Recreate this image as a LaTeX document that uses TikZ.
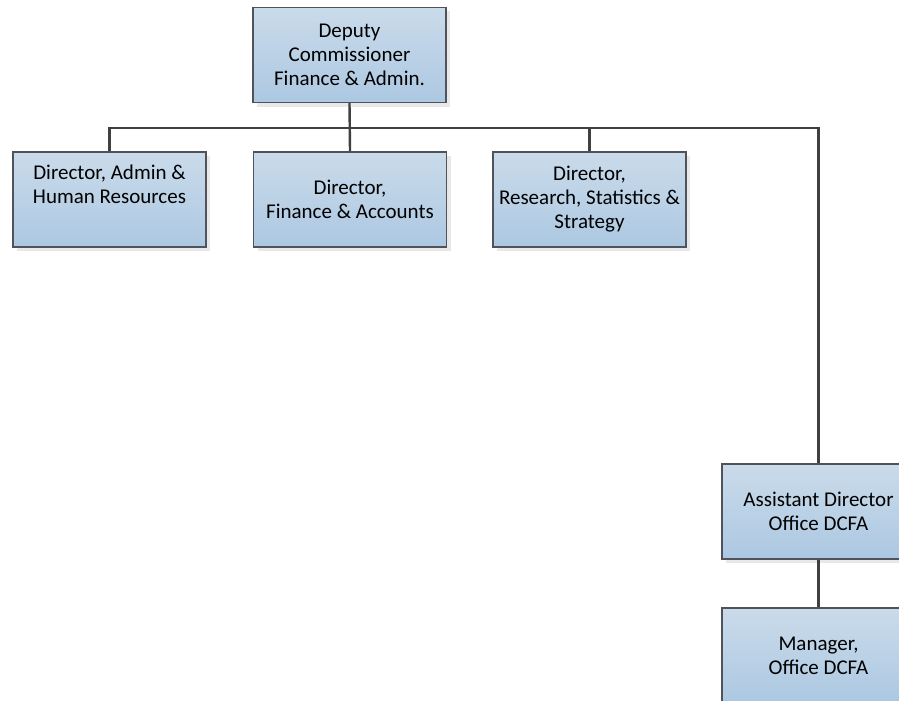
\documentclass[tikz,border=0pt]{standalone}
\usepackage{fontspec}
\setmainfont{Carlito}
\usetikzlibrary{shadows}
\definecolor{boxtop}{RGB}{202,219,234}
\definecolor{boxbot}{RGB}{172,200,226}
\definecolor{boxline}{RGB}{80,84,90}
\definecolor{connline}{RGB}{64,64,64}
\tikzset{
  orgbox/.style={rectangle, draw=boxline, line width=1.2pt,
    top color=boxtop, bottom color=boxbot,
    minimum width=193pt, minimum height=95pt, inner sep=2pt,
    align=center, font=\fontsize{21}{24}\selectfont,
    drop shadow={shadow xshift=4pt, shadow yshift=-4pt, fill=black!9, opacity=1}},
  conn/.style={draw=connline, line width=2.4pt}
}
\begin{document}
\begin{tikzpicture}[x=1pt,y=-1pt]
\useasboundingbox (0,0) rectangle (899,701);
\clip (0,0) rectangle (899,701);
\fill[white] (0,0) rectangle (899,701);
\coordinate (busL) at (109,128);
\node[orgbox] (dc) at (349.5,55) {Deputy\\Commissioner\\Finance \& Admin.};
\node[orgbox] (d1) at (109.5,199.5) {Director, Admin \&\\Human Resources\\\strut};
\node[orgbox] (d2) at (350,199.5) {Director,\\Finance \& Accounts};
\node[orgbox] (d3) at (589.5,199.5) {Director,\\Research, Statistics \&\\Strategy};
\node[orgbox] (ad) at (818.5,511.5) {Assistant Director\\Office DCFA};
\node[orgbox] (mg) at (818.5,655.5) {Manager,\\Office DCFA};
\draw[conn] (d1.north) |- (ad.north |- busL) -- (ad.north);
\draw[conn] (dc.south) -- (d2.north);
\draw[conn] (d3.north) -- (d3.north |- busL);
\draw[conn] (ad.south) -- (mg.north);
\end{tikzpicture}
\end{document}
